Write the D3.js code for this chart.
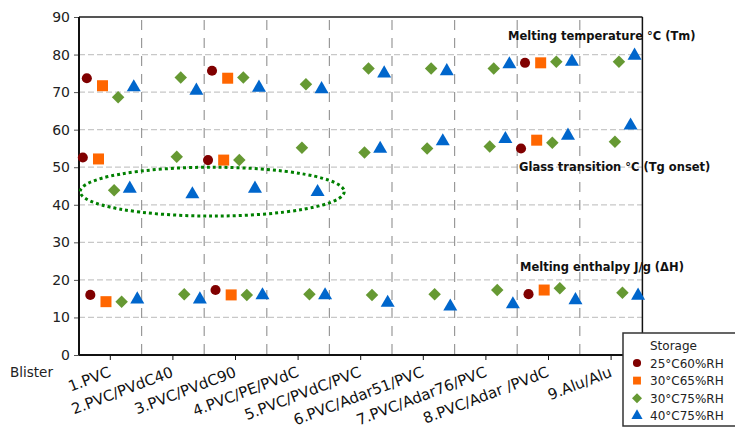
<!DOCTYPE html>
<html>
<head>
<meta charset="utf-8">
<script src="https://cdn.jsdelivr.net/npm/d3@7"></script>
<style>
  body { margin: 0; background: #fff; }
  #wrap { position: relative; width: 735px; height: 436px; }
  svg { display: block; font-family: "DejaVu Sans", Verdana, sans-serif; }
  .xlab {
    position: absolute; white-space: nowrap;
    font: 15px/15px "DejaVu Sans", Verdana, sans-serif; color: #111;
    transform: rotate(-21deg); transform-origin: 100% 12.7px;
  }
</style>
</head>
<body>
<div id="wrap"><svg id="chart" width="735" height="436"></svg></div>
<script>
const categories = ["1.PVC", "2.PVC/PVdC40", "3.PVC/PVdC90", "4.PVC/PE/PVdC", "5.PVC/PVdC/PVC",
  "6.PVC/Adar51/PVC", "7.PVC/Adar76/PVC", "8.PVC/Adar /PVdC", "9.Alu/Alu"];
const storageConditions = ["25°C60%RH", "30°C65%RH", "30°C75%RH", "40°C75%RH"];
const yTicks = [0, 10, 20, 30, 40, 50, 60, 70, 80, 90];

// melting temperature Tm (°C)
const tm25_60 = [73.7, null, 75.7, null, null, null, null, 77.8, null];
const tm30_65 = [71.7, null, 73.7, null, null, null, null, 77.8, null];
const tm30_75 = [68.6, 73.9, 73.9, 72.1, 76.3, 76.3, 76.3, 78.1, 78.1];
const tm40_75 = [71.3, 70.4, 71.2, 70.8, 75.0, 75.6, 77.4, 78.1, 79.7];

// glass transition Tg onset (°C)
const tg25_60 = [52.6, null, 51.9, null, null, null, null, 55.0, null];
const tg30_65 = [52.2, null, 51.9, null, null, null, null, 57.2, null];
const tg30_75 = [43.9, 52.8, 51.9, 55.2, 53.9, 55.0, 55.5, 56.5, 56.8];
const tg40_75 = [44.3, 42.8, 44.3, 43.4, 54.9, 56.9, 57.5, 58.4, 61.1];

// melting enthalpy dH (J/g)
const dh25_60 = [16.0, null, 17.3, null, null, null, null, 16.2, null];
const dh30_65 = [14.2, null, 16.0, null, null, null, null, 17.3, null];
const dh30_75 = [14.2, 16.2, 16.0, 16.2, 16.0, 16.2, 17.3, 17.8, 16.6];
const dh40_75 = [14.8, 14.8, 15.9, 15.9, 13.9, 12.9, 13.5, 14.6, 15.8];

const colors = ["#800000", "#ff6600", "#669933", "#0066cc"];

const svg = d3.select("#chart");
const plotLeft = 79, plotRight = 642.4, plotTop = 17, plotBottom = 355;

const x = d3.scaleBand().domain(categories).range([plotLeft, plotRight]);
const sx = d3.scaleBand().domain(storageConditions).range([0, x.bandwidth()]);
const y = d3.scaleLinear().domain([0, 90]).range([plotBottom, plotTop]);

// gridlines
svg.append("g")
  .selectAll("line")
  .data(yTicks.filter(d => d > 0 && d < 90))
  .join("line")
  .attr("x1", plotLeft).attr("x2", plotRight)
  .attr("y1", d => y(d)).attr("y2", d => y(d))
  .attr("stroke", "#c8c8c8").attr("stroke-width", 1.2)
  .attr("stroke-dasharray", "6,3");

svg.append("g")
  .selectAll("line")
  .data(categories.slice(1))
  .join("line")
  .attr("x1", d => x(d)).attr("x2", d => x(d))
  .attr("y1", plotTop + 3).attr("y2", plotBottom)
  .attr("stroke", "#999").attr("stroke-width", 1.2)
  .attr("stroke-dasharray", "10,8");

// frame
svg.append("line").attr("x1", plotLeft).attr("x2", plotRight).attr("y1", plotTop).attr("y2", plotTop)
  .attr("stroke", "#555").attr("stroke-width", 2);
svg.append("line").attr("x1", plotRight).attr("x2", plotRight).attr("y1", plotTop).attr("y2", plotBottom)
  .attr("stroke", "#111").attr("stroke-width", 1.5);

// axes
const yAxis = svg.append("g")
  .attr("transform", `translate(${plotLeft},0)`)
  .call(d3.axisLeft(y).tickValues(yTicks).tickSize(5).tickPadding(4));
yAxis.select(".domain").remove();
yAxis.selectAll(".tick line").attr("stroke", "#555");
yAxis.selectAll("text").attr("font-size", 14).attr("fill", "#222")
  .attr("font-family", "DejaVu Sans, sans-serif");

const xAxis = svg.append("g")
  .attr("transform", `translate(0,${plotBottom})`)
  .call(d3.axisBottom(x).tickSize(5).tickFormat(""));
xAxis.select(".domain").remove();
xAxis.selectAll(".tick line").attr("stroke", "#111");

// rotated category labels (HTML overlay)
d3.select("#wrap").selectAll("div.xlab")
  .data(categories)
  .join("div")
  .attr("class", "xlab")
  .style("right", d => (735 - (x(d) + x.bandwidth() / 2 + 2)) + "px")
  .style("top", (377 - 12.7) + "px")
  .text(d => d);

svg.append("line").attr("x1", plotLeft).attr("x2", plotRight).attr("y1", plotBottom).attr("y2", plotBottom)
  .attr("stroke", "#111").attr("stroke-width", 2);
svg.append("line").attr("x1", plotLeft).attr("x2", plotLeft).attr("y1", plotTop).attr("y2", plotBottom)
  .attr("stroke", "#111").attr("stroke-width", 2);

svg.append("text").attr("x", 10).attr("y", 377)
  .attr("font-size", 13.5).attr("fill", "#222").text("Blister");

// markers
const symbols = [
  { type: d3.symbolCircle, size: 80, rotate: 0, legendSize: 52 },
  { type: d3.symbolSquare, size: 121, rotate: 0, legendSize: 62 },
  { type: d3.symbolSquare, size: 78, rotate: 45, legendSize: 50 },
  { type: d3.symbolTriangle, size: 85, rotate: 0, legendSize: 54 }
];

const groups = [
  { shift: 0, series: [tm25_60, tm30_65, tm30_75, tm40_75] },
  { shift: -4, series: [tg25_60, tg30_65, tg30_75, tg40_75] },
  { shift: 3.5, series: [dh25_60, dh30_65, dh30_75, dh40_75] }
];

const points = [];
groups.forEach(g => {
  g.series.forEach((vals, si) => {
    vals.forEach((v, ci) => {
      if (v != null) points.push({ cat: categories[ci], si: si, value: v, shift: g.shift });
    });
  });
});

svg.append("g")
  .selectAll("path")
  .data(points)
  .join("path")
  .attr("d", d => d3.symbol().type(symbols[d.si].type).size(symbols[d.si].size)())
  .attr("fill", d => colors[d.si])
  .attr("transform", d => {
    const px = x(d.cat) + sx(storageConditions[d.si]) + sx.bandwidth() / 2 + d.shift;
    return `translate(${px},${y(d.value)}) rotate(${symbols[d.si].rotate})`;
  });

// annotations
const notes = [
  { text: "Melting temperature °C (Tm)", x: 508, v: 83.8 },
  { text: "Glass transition °C (Tg onset)", x: 519, v: 49 },
  { text: "Melting enthalpy J/g (ΔH)", x: 520, v: 22.4 }
];
svg.append("g")
  .selectAll("text")
  .data(notes)
  .join("text")
  .attr("x", d => d.x).attr("y", d => y(d.v))
  .attr("font-size", 11.5).attr("font-weight", "bold").attr("fill", "#111")
  .text(d => d.text);

// dotted ellipse around Tg of 40°C75%RH
svg.append("ellipse")
  .attr("cx", x(categories[2]) + 8)
  .attr("cy", y(43.5))
  .attr("rx", 132)
  .attr("ry", y(37) - y(43.5))
  .attr("fill", "none")
  .attr("stroke", "#008000")
  .attr("stroke-width", 3)
  .attr("stroke-dasharray", "3,3");

// legend
const legend = svg.append("g").attr("transform", "translate(623,333)");
legend.append("rect")
  .attr("width", 130).attr("height", 93)
  .attr("fill", "#fff").attr("stroke", "#333").attr("stroke-width", 1.5);
legend.append("text").attr("x", 27).attr("y", 17)
  .attr("font-size", 12).attr("fill", "#222").text("Storage");
const items = legend.selectAll("g.item")
  .data(storageConditions)
  .join("g")
  .attr("class", "item")
  .attr("transform", (d, i) => `translate(0,${30 + i * 17.6})`);
items.append("path")
  .attr("d", (d, i) => d3.symbol().type(symbols[i].type).size(symbols[i].legendSize)())
  .attr("transform", (d, i) => `translate(14,0) rotate(${symbols[i].rotate})`)
  .attr("fill", (d, i) => colors[i]);
items.append("text")
  .attr("x", 27).attr("y", 4.5)
  .attr("font-size", 12).attr("fill", "#222")
  .text(d => d);
</script>
</body>
</html>
